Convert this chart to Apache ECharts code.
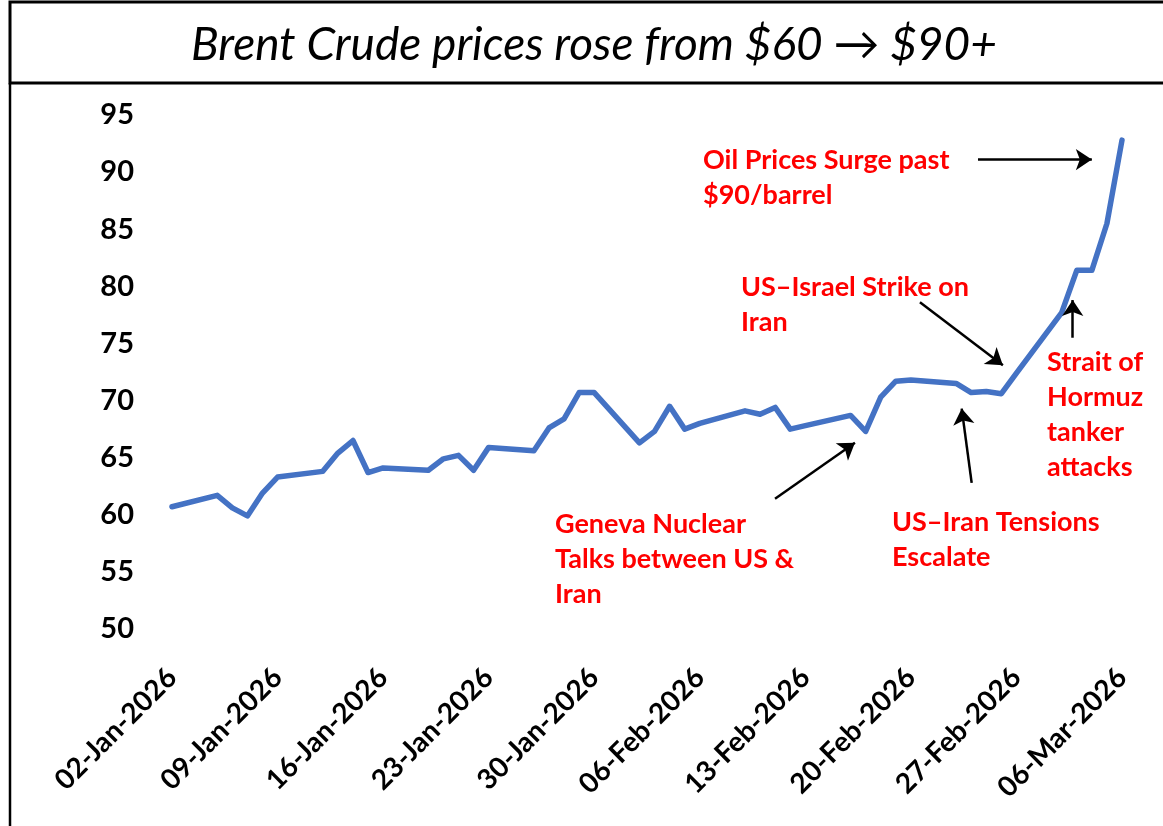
<!DOCTYPE html>
<html>
<head>
<meta charset="utf-8">
<script src="https://cdn.jsdelivr.net/npm/echarts@6/dist/echarts.min.js"></script>
<style>
  html, body { margin: 0; padding: 0; background: #fff; }
  #chart { width: 1163px; height: 826px; }
</style>
</head>
<body>
<div id="chart"></div>
<script>
// trading days shown on the chart
const dates = [
  '2026-01-02', '2026-01-05', '2026-01-06', '2026-01-07', '2026-01-08', '2026-01-09',
  '2026-01-12', '2026-01-13', '2026-01-14', '2026-01-15', '2026-01-16',
  '2026-01-19', '2026-01-20', '2026-01-21', '2026-01-22', '2026-01-23',
  '2026-01-26', '2026-01-27', '2026-01-28', '2026-01-29', '2026-01-30',
  '2026-02-02', '2026-02-03', '2026-02-04', '2026-02-05', '2026-02-06',
  '2026-02-09', '2026-02-10', '2026-02-11', '2026-02-12', '2026-02-13',
  '2026-02-16', '2026-02-17', '2026-02-18', '2026-02-19', '2026-02-20',
  '2026-02-23', '2026-02-24', '2026-02-25', '2026-02-26', '2026-02-27',
  '2026-03-02', '2026-03-03', '2026-03-04', '2026-03-05', '2026-03-06'
];
// Brent close, $/barrel
const prices = [
  60.7, 61.7, 60.6, 59.9, 61.9, 63.3,
  63.8, 65.4, 66.5, 63.7, 64.1,
  63.9, 64.9, 65.2, 63.9, 65.9,
  65.6, 67.6, 68.4, 70.7, 70.7,
  66.3, 67.3, 69.5, 67.5, 68.0,
  69.1, 68.8, 69.4, 67.5, 67.8,
  68.7, 67.3, 70.3, 71.7, 71.8,
  71.5, 70.7, 70.8, 70.6, 72.4,
  77.7, 81.4, 81.4, 85.5, 92.8
];
const yTicks = [50, 55, 60, 65, 70, 75, 80, 85, 90, 95];
const startDate = '2026-01-02';
const endDate = '2026-03-06';
const titleText = 'Brent Crude prices rose from $60 \u2192 $90+';

// annotation arrows, in (days since 02-Jan, price) space
const notes = [
  { text: 'Oil Prices Surge past\n$90/barrel', from: [53.45, 91.1], to: [61.0, 91.1] },
  { text: 'US\u2013Israel Strike on\nIran', from: [49.6, 78.6], to: [55.1, 73.1] },
  { text: 'Strait of\nHormuz\ntanker\nattacks', from: [59.73, 75.5], to: [59.73, 78.8] },
  { text: 'US\u2013Iran Tensions\nEscalate', from: [53.03, 62.8], to: [52.37, 69.3] },
  { text: 'Geneva Nuclear\nTalks between US &\nIran', from: [39.99, 61.4], to: [45.29, 66.3] }
];
const notePos = [[703, 143], [741, 270], [1047, 345], [892, 505], [555, 507]];

const DAY = 86400000;
const MONTHS = ['Jan', 'Feb', 'Mar', 'Apr', 'May', 'Jun', 'Jul', 'Aug', 'Sep', 'Oct', 'Nov', 'Dec'];
function toDate(s) {
  const p = s.split('-');
  return new Date(+p[0], +p[1] - 1, +p[2]);
}
const t0 = toDate(startDate).getTime();
function dayIndex(s) { return Math.round((toDate(s).getTime() - t0) / DAY); }
function fmtDay(d) {
  const dt = new Date(t0 + d * DAY);
  const dd = String(dt.getDate()).padStart(2, '0');
  return dd + '-' + MONTHS[dt.getMonth()] + '-' + dt.getFullYear();
}

const seriesData = dates.map((d, i) => [dayIndex(d), prices[i]]);

const chart = echarts.init(document.getElementById('chart'));
const option = {
  animation: false,
  backgroundColor: '#fff',
  grid: { left: 172, right: 41, top: 115, bottom: 197 },
  xAxis: {
    type: 'value',
    min: 0,
    max: dayIndex(endDate),
    interval: 7,
    axisLine: { show: false },
    axisTick: { show: false },
    splitLine: { show: false },
    axisLabel: {
      rotate: 45,
      margin: 44,
      formatter: fmtDay,
      color: '#000',
      fontFamily: 'Lato',
      fontWeight: 'bold',
      fontSize: 28
    }
  },
  yAxis: {
    type: 'value',
    min: yTicks[0],
    max: yTicks[yTicks.length - 1],
    interval: 5,
    axisLine: { show: false },
    axisTick: { show: false },
    splitLine: { show: false },
    axisLabel: {
      margin: 38,
      color: '#000',
      fontFamily: 'Lato',
      fontWeight: 'bold',
      fontSize: 29
    }
  },
  series: [{
    type: 'line',
    data: seriesData,
    showSymbol: false,
    lineStyle: { color: '#4472C4', width: 5.5, join: 'round', cap: 'round' },
    markLine: {
      silent: true,
      symbol: ['none', 'arrow'],
      symbolSize: 16,
      label: { show: false },
      lineStyle: { color: '#000', width: 2.5, type: 'solid' },
      data: notes.map(n => [{ coord: n.from }, { coord: n.to }])
    }
  }],
  graphic: [
    {
      type: 'rect',
      shape: { x: 10, y: 2, width: 1170, height: 81 },
      style: { fill: 'none', stroke: '#000', lineWidth: 3 }
    },
    {
      type: 'line',
      shape: { x1: 10, y1: 83, x2: 10, y2: 830 },
      style: { stroke: '#000', lineWidth: 2.5 }
    },
    {
      type: 'text',
      x: 594,
      y: 45,
      style: {
        text: titleText,
        fill: '#000',
        fontFamily: 'Lato',
        fontStyle: 'italic',
        fontSize: 46,
        textAlign: 'center',
        textVerticalAlign: 'middle'
      }
    }
  ].concat(notes.map((n, i) => ({
    type: 'text',
    x: notePos[i][0],
    y: notePos[i][1],
    style: {
      text: n.text,
      fill: '#FF0000',
      fontFamily: 'Lato',
      fontWeight: 'bold',
      fontSize: 27,
      lineHeight: 35,
      textAlign: 'left',
      textVerticalAlign: 'top'
    }
  })))
};
chart.setOption(option);
</script>
</body>
</html>
